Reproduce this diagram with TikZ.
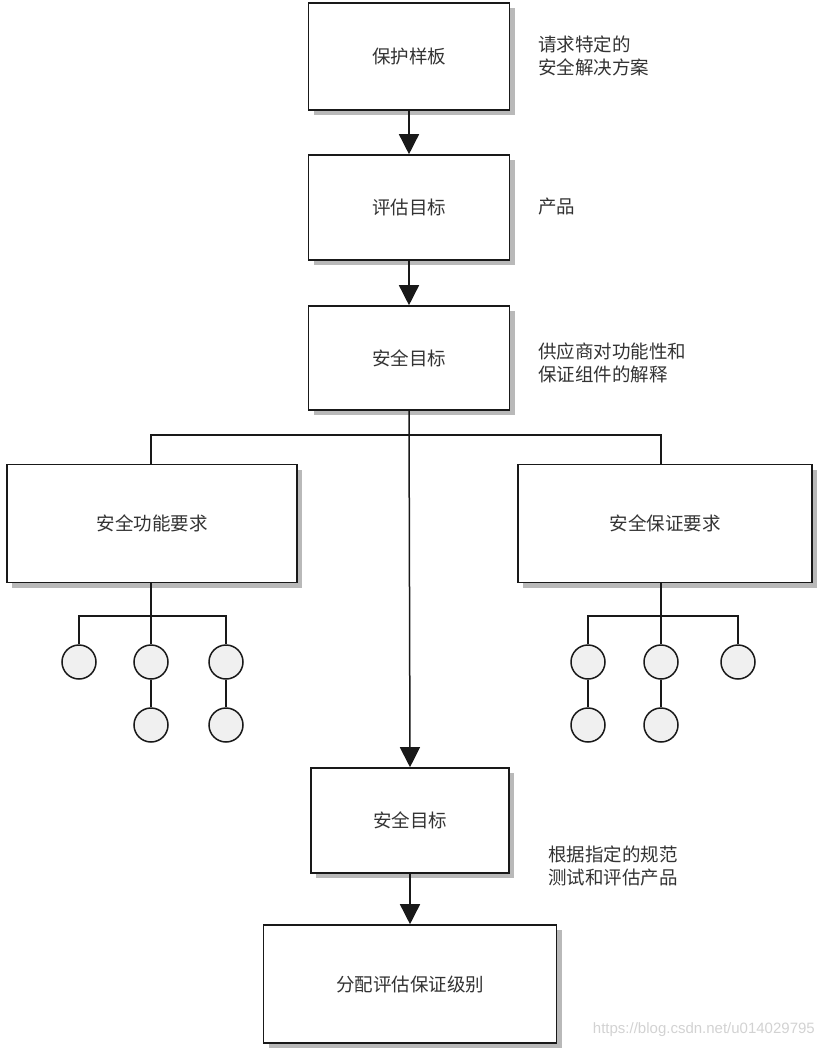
\documentclass[tikz,border=0pt]{standalone}
\usepackage{fontspec}
\setmainfont{Noto Sans CJK SC}
\usetikzlibrary{arrows.meta,shadows}
\begin{document}
\begin{tikzpicture}[x=1pt,y=-1pt,
  txt/.style={text=black!80, font=\fontsize{18.5}{23}\selectfont},
  box/.style={draw=black!90, line width=1.6pt, fill=white, txt,
    drop shadow={shadow xshift=5pt, shadow yshift=-5pt, fill=gray!55, opacity=1}},
  leaf/.style={circle, draw=black!90, line width=1.5pt, fill=gray!12, minimum size=34pt, inner sep=0pt},
  note/.style={txt, anchor=west, align=left, inner sep=0pt},
  conn/.style={draw=black!90, line width=1.5pt},
  arr/.style={conn, -{Triangle[width=20pt,length=20pt]}}]
\useasboundingbox (0,0) rectangle (822,1051);
% main column
\node[box, minimum width=201pt, minimum height=107pt] (b1) at (409,56.5) {保护样板};
\node[box, minimum width=201pt, minimum height=105pt] (b2) at (409,207.5) {评估目标};
\node[box, minimum width=201pt, minimum height=104pt] (b3) at (409,358) {安全目标};
\node[box, minimum width=290pt, minimum height=118pt] (L) at (152,523.5) {安全功能要求};
\node[box, minimum width=294pt, minimum height=118pt] (R) at (665,523.5) {安全保证要求};
\node[box, minimum width=198pt, minimum height=105pt] (b4) at (410,820.5) {安全目标};
\node[box, minimum width=293pt, minimum height=118pt] (b5) at (410,984) {分配评估保证级别};
% notes
\node[note] (n1) at (538,56) {请求特定的\\安全解决方案};
\node[note] (n2) at (538,207) {产品};
\node[note] (n3) at (538,363) {供应商对功能性和\\保证组件的解释};
\node[note] (n4) at (548,866) {根据指定的规范\\测试和评估产品};
% circles
\node[leaf] (L1) at (79,662) {};
\node[leaf] (L2) at (151,662) {};
\node[leaf] (L3) at (226,662) {};
\node[leaf] (L4) at (151,725) {};
\node[leaf] (L5) at (226,725) {};
\node[leaf] (R1) at (588,662) {};
\node[leaf] (R2) at (661,662) {};
\node[leaf] (R3) at (738,662) {};
\node[leaf] (R4) at (588,725) {};
\node[leaf] (R5) at (661,725) {};
\coordinate (jL) at (151,435);
\coordinate (jR) at (661,435);
\coordinate (barL) at (151,616);
\coordinate (barR) at (661,616);
% connectors
\draw[arr] (b1) -- (b2);
\draw[arr] (b2) -- (b3);
\draw[arr] (b3.south) -- (b4.north);
\draw[arr] (b4) -- (b5);
\draw[conn] (jL |- L.north) -- (jL) -- (jR) -- (jR |- R.north);
\draw[conn] (L2 |- L.south) -- (L2.north);
\draw[conn] (L1.north) -- (L1 |- barL) -- (L3 |- barL) -- (L3.north);
\draw[conn] (L2) -- (L4);
\draw[conn] (L3) -- (L5);
\draw[conn] (R2 |- R.south) -- (R2.north);
\draw[conn] (R1.north) -- (R1 |- barR) -- (R3 |- barR) -- (R3.north);
\draw[conn] (R1) -- (R4);
\draw[conn] (R2) -- (R5);
% watermark
\node[anchor=east, text=gray!35, font=\fontspec{Liberation Sans}\fontsize{15}{18}\selectfont, inner sep=0pt] (wm) at (815,1030) {https://blog.csdn.net/u014029795};
\end{tikzpicture}
\end{document}
